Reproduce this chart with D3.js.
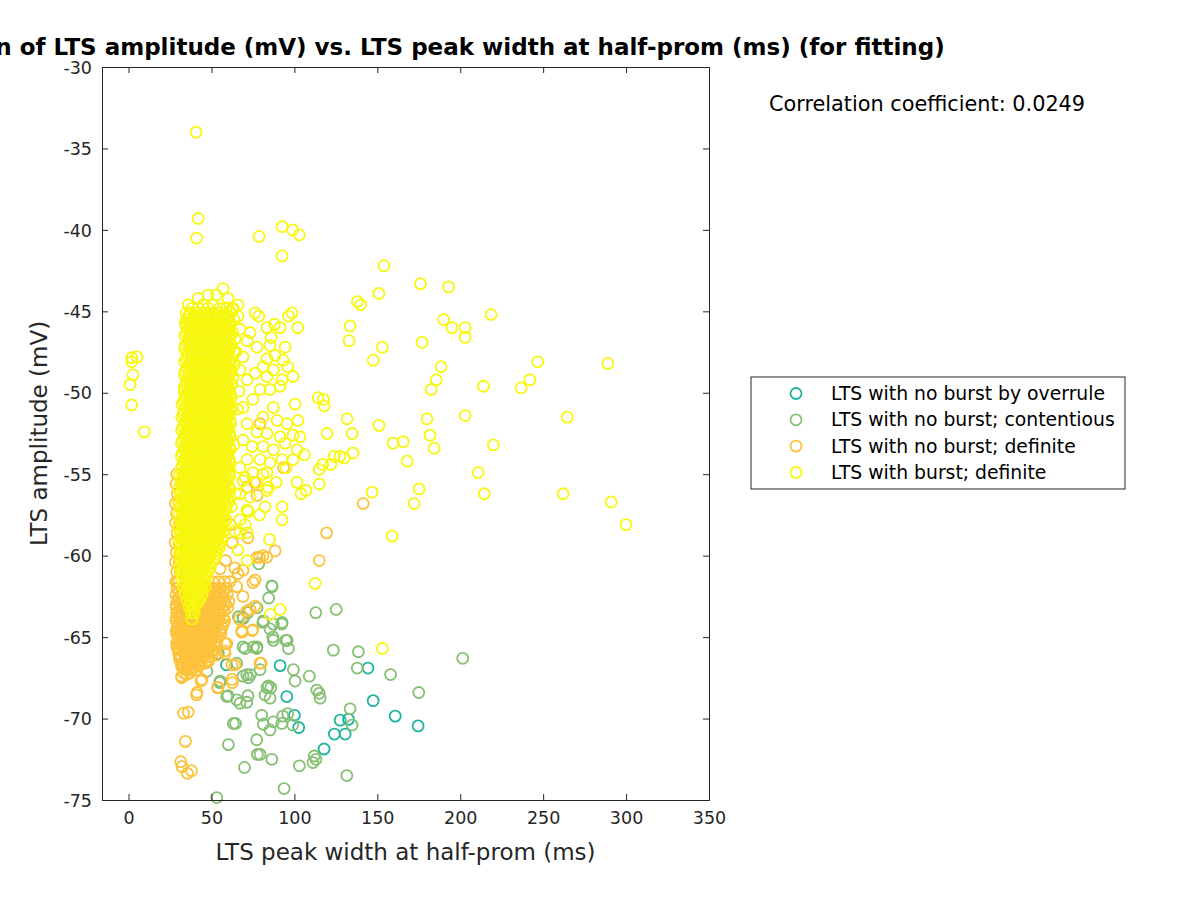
<!DOCTYPE html>
<html>
<head>
<meta charset="utf-8">
<script src="https://cdn.jsdelivr.net/npm/d3@7"></script>
<style>
  body { margin: 0; background: #fff; }
  svg { font-family: "DejaVu Sans", sans-serif; }
</style>
</head>
<body>
<svg id="chart" width="1200" height="900"></svg>
<script>
// ---------------- DATA ----------------
const seriesNames = [
  "LTS with no burst by overrule",
  "LTS with no burst; contentious",
  "LTS with no burst; definite",
  "LTS with burst; definite"
];
const seriesColors = ["#1db5a0", "#86c073", "#fcc23a", "#f7f70f"];
const xTicks = [0, 50, 100, 150, 200, 250, 300, 350];
const yTicks = [-75, -70, -65, -60, -55, -50, -45, -40, -35, -30];
const corrText = "Correlation coefficient: 0.0249";

// [width (ms), amplitude (mV)]
const overrulePts = [
  [91.4,-66.75],[95.4,-68.65],[100,-69.8],[102.6,-70.55],[117.9,-71.87],[124.1,-70.95],
  [127.6,-70.1],[130.6,-70.95],[132.6,-70.05],[144.4,-66.9],[147.5,-68.9],[160.8,-69.85],
  [174.6,-70.45],[59,-66.7],[51.2,-64.15]
];

const contentiousPts = [
  [201.5,-66.3],[175,-68.4],[158,-67.3],[137.9,-66.9],[138.6,-65.9],[123.5,-65.8],[125.2,-63.3],
  [112.9,-63.5],[113.5,-68.25],[115,-68.45],[115.5,-68.75],[109,-67.4],[134.8,-70.4],[133.6,-69.4],
  [131.6,-73.5],[112,-72.3],[113,-72.5],[111.2,-72.7],[103,-72.9],[93.8,-74.3],[53.2,-74.85],
  [69.9,-73.0],[77.7,-72.2],[79.3,-72.2],[86.4,-72.5],[60.2,-71.6],[77.3,-71.3],[63.2,-70.3],
  [80.3,-69.8],[87.3,-70.2],[92.4,-70.3],[93,-69.85],[85.3,-70.7],[81.3,-70.35],[96,-69.7],
  [99,-70.4],[59.2,-68.65],[65.2,-68.85],[67.2,-69.06],[71.3,-69.0],[84.3,-68.0],[85.8,-68.1],
  [82.3,-68.55],[85.3,-68.75],[99.4,-67.0],[100.4,-67.7],[86.4,-61.85],[87.3,-65.2],[96.4,-65.7],
  [94.8,-65.2],[87.3,-64.2],[92.4,-64.2],[85.3,-64.5],[81.3,-64.0],[69.2,-63.85],[66.2,-63.75],
  [70.3,-65.7],[75.3,-65.6],[77.3,-65.7],[71.3,-67.3],[72.3,-67.5],[65.2,-66.6],[47.2,-67.1],
  [55.2,-67.7],[54.2,-66.0],[69,-63.8],[72,-63.5],[77.5,-63.2],[92.6,-64.1],[81,-64.1],
  [87,-65.0],[95.6,-65.2],[69,-65.6],[77.5,-65.6],[53.3,-66.0],[79.3,-67.0],[69,-67.4],
  [55,-67.8],[60,-68.6],[83.5,-68.1],[72,-68.6],[73.5,-67.3],[64.5,-70.3],[86.5,-61.9],
  [78.5,-60.5],[84.5,-62.6]
];

// no-burst definite: dense rows under the burst column [amplitude, [widths...]]
const definiteColumnRows = [
  [-55.0,[29.1]],[-55.6,[28.6]],[-56.2,[29.4]],[-56.8,[28.2,30.5]],[-57.4,[28.9]],[-58.0,[28.4,30.8]],
  [-58.6,[29.2]],[-59.2,[28.1,30.4]],[-59.8,[28.8,31.1]],[-60.4,[28.3,30.6]],[-61.0,[29.0,31.3]],
  [-61.6,[28.5,30.2,50.8,54.3,57.9,61.2]],
  [-62.0,[29.2,32.4,47.9,51.6,55.2,58.7]],
  [-62.2,[30.4,33.9,46.5,50.2,53.7,57.3]],
  [-62.4,[28.6,31.7,35.2,45.3,48.8,52.4,56.1,59.5]],
  [-62.6,[29.9,33.3,36.8,43.0,46.1,49.6,53.2,56.9]],
  [-62.8,[29.5,32.8,36.3,44.1,47.4,50.9,54.5,57.8]],
  [-63.0,[28.7,31.4,34.4,38.0,41.2,44.6,48.1,51.6,55.1,58.6]],
  [-63.2,[28.8,31.9,34.7,42.4,45.9,49.3,52.8,56.2,59.8]],
  [-63.4,[30.3,33.6,37.1,40.5,43.9,47.4,50.9,54.3,57.5]],
  [-63.6,[29.4,32.7,35.9,41.6,44.8,48.2,51.7,55.0]],
  [-63.8,[28.9,31.1,34.2,37.6,40.9,44.2,47.7,51.1,54.6,57.2]],
  [-64.0,[28.5,31.6,34.8,38.0,41.3,44.5,47.9,51.2,54.6,58.0]],
  [-64.2,[30.1,33.3,36.6,40.0,43.5,46.9,50.3,53.8,57.1]],
  [-64.4,[29.6,32.9,36.1,39.4,42.8,46.2,49.6,53.1,56.4]],
  [-64.6,[28.7,31.7,35.0,38.3,41.7,45.1,48.5,52.0,55.2]],
  [-64.8,[28.9,32.2,35.4,38.7,41.9,45.4,48.8,52.2,55.7]],
  [-65.0,[30.4,33.7,37.0,40.4,43.8,47.2,50.7,54.1]],
  [-65.2,[29.8,33.1,36.5,39.8,43.2,46.6,50.1,53.4]],
  [-65.4,[29.0,32.0,35.3,38.7,42.0,45.4,48.9,52.2]],
  [-65.6,[29.1,32.4,35.7,39.1,42.4,45.8,49.2,52.6]],
  [-65.8,[30.7,34.0,37.4,40.8,44.1,47.5,51.0]],
  [-66.0,[30.2,33.5,36.8,40.3,43.6,47.0,50.5]],
  [-66.2,[31.6,34.9,38.3,41.7,45.1,48.6]],
  [-66.4,[30.8,34.2,37.6,41.0,44.4,48.0]],
  [-66.6,[32.5,36.0,39.4,43.0,46.3]],
  [-66.8,[32.0,35.5,39.1,42.2]],
  [-67.0,[34.6,38.2,41.1]],
  [-67.2,[33.4,37.0]],[-67.5,[32.1]]
];

const definiteScatterPts = [
  [41,-68.55],[53.6,-68.1],[43.7,-67.7],[62.6,-67.8],[64.2,-66.7],[79.9,-66.6],[57.8,-65.85],
  [74.9,-64.56],[68.3,-64.6],[71.3,-63.4],[76.3,-63.1],[75,-61.65],[69,-60.9],[65.2,-61.9],
  [59.2,-65.4],[53.2,-66.1],[48.1,-66.5],[43.1,-66.7],[40.1,-66.4],[35.1,-67.3],[32,-67.4],
  [30,-65.6],[31,-66.2],[33,-66.8],[29,-63.5],[29,-61.6],[30,-64.6],
  [33.2,-69.67],[36,-69.6],[34.3,-71.4],[31.5,-72.65],[32.2,-72.95],[35.5,-73.36],[38,-73.2],
  [141.5,-56.8],[119.4,-58.6],[115,-60.3],[88.4,-59.7],[81,-60.0],[77.5,-60.1],[83.3,-60.1],
  [71.5,-55.8],[76,-55.5],[77.5,-56.3],[72,-58.9],[79,-60.1],[76.3,-61.5],[66,-61.1],[69,-62.5],
  [64,-60.75],[73.3,-63.3],[68.4,-64.7],[74.5,-64.6],[79.3,-66.6],[58.2,-65.4],[58.2,-66.0],
  [62.4,-66.7],[62.4,-67.6],[54,-68.1],[41.3,-68.4],[44.3,-67.6],[79.3,-51.9],[93.5,-54.6],
  [62.5,-59.2],[58.5,-60.3],[55.2,-60.8],[61.4,-58.1],[66.8,-63.9],[60.5,-62.8]
];

// main dense column of bursting LTSs: [amplitude, [widths...]]
const burstColumnRows = [
  [-43.6,[57]],[-44.0,[48,53]],[-44.2,[42,60]],[-44.6,[36,45,51,66]],[-44.8,[38.5,42,48,55,59,63]],
  [-45.1,[34.8,37.2,40.9,44.1,47.6,51.3,54.2,58.1,61.4]],
  [-45.3,[36.1,39.8,43.2,46.7,50.1,53.6,57.0,60.4]],
  [-45.5,[35.3,38.7,42.6,45.8,49.2,52.9,56.4,59.7,63.5]],
  [-45.7,[34.2,37.4,40.9,44.3,47.8,51.2,54.7,58.2,61.5]],
  [-45.9,[34.6,36.9,40.2,43.7,47.5,50.6,54.8,57.9,61.2]],
  [-46.1,[35.8,39.1,42.6,46.2,49.5,53.1,56.6,60.1]],
  [-46.3,[34.9,38.4,41.8,45.1,48.9,52.3,55.7,59.4,62.8]],
  [-46.5,[34.0,37.3,40.7,44.2,47.6,51.0,54.5,57.9,61.3]],
  [-46.7,[36.1,39.8,43.4,46.6,50.4,53.6,57.2,60.9,64.2]],
  [-46.9,[35.4,38.8,42.3,45.8,49.3,52.6,56.1,59.6]],
  [-47.1,[34.3,37.6,41.2,44.9,48.1,51.8,55.3,58.6,62.1]],
  [-47.3,[33.9,37.2,40.5,44.0,47.4,50.8,54.3,57.7,61.0]],
  [-47.5,[35.8,39.5,42.8,46.3,49.7,53.4,56.8,60.3,63.7]],
  [-47.7,[35.5,38.6,42.1,45.5,49.0,52.5,55.9,59.4]],
  [-47.9,[34.7,38.1,41.6,45.2,48.6,52.1,55.9,59.1,62.4]],
  [-48.1,[33.8,37.0,40.4,43.9,47.3,50.7,54.1,57.6,60.9]],
  [-48.3,[36.4,39.9,43.3,46.8,50.2,53.8,57.4,60.8,63.6]],
  [-48.5,[35.3,38.5,42.0,45.4,48.8,52.3,55.7,59.2]],
  [-48.7,[34.2,37.8,41.4,44.7,48.3,51.6,55.2,58.8,62.3]],
  [-48.9,[33.7,36.8,40.3,43.7,47.2,50.6,54.0,57.5,60.7]],
  [-49.1,[35.9,39.3,42.9,46.4,49.8,53.3,56.7,60.1,62.9]],
  [-49.3,[35.1,38.4,41.8,45.3,48.7,52.1,55.6,59.0]],
  [-49.5,[34.5,37.9,41.3,44.8,48.4,51.9,55.4,58.9,62.2]],
  [-49.7,[33.5,36.7,40.1,43.6,47.0,50.4,53.9,57.3,60.5]],
  [-49.9,[33.6,36.2,39.6,43.1,46.7,50.1,53.5,57.1,60.6]],
  [-50.1,[34.9,38.2,41.7,45.1,48.6,52.0,55.4,58.8,61.6]],
  [-50.3,[34.1,37.7,41.1,44.6,48.2,51.7,55.1,58.5,62.0]],
  [-50.5,[33.3,36.5,40.0,43.4,46.9,50.3,53.7,57.2,60.4]],
  [-50.7,[32.2,35.7,39.2,42.7,46.2,49.6,53.2,56.6,60.2]],
  [-50.9,[34.6,38.0,41.4,44.9,48.4,51.8,55.3,58.6,61.4]],
  [-51.1,[33.4,37.5,41.5,44.3,48.0,51.4,55.0,58.4,61.7]],
  [-51.3,[33.1,36.3,39.8,43.2,46.7,50.1,53.6,57.0,60.3]],
  [-51.5,[32.1,35.6,39.1,42.5,46.1,49.5,53.0,56.5,59.9]],
  [-51.7,[34.4,37.8,41.2,44.7,48.2,51.6,55.1,58.5,61.2]],
  [-51.9,[33.9,37.4,40.9,44.4,47.9,51.2,54.7,58.3,61.6]],
  [-52.1,[32.9,36.1,39.6,43.0,46.5,50.0,53.4,56.8,60.1]],
  [-52.3,[32.0,35.4,38.9,42.4,45.9,49.4,52.8,56.3,59.8]],
  [-52.5,[34.2,37.6,41.0,44.5,48.0,51.4,54.9,58.3,61.0]],
  [-52.7,[33.7,37.3,40.8,44.2,47.7,51.1,54.6,58.0,61.5]],
  [-52.9,[32.7,35.9,39.4,42.8,46.3,49.8,53.3,56.7,59.9]],
  [-53.1,[31.9,35.3,38.8,42.3,45.7,49.2,52.7,56.2,59.6]],
  [-53.3,[34.0,37.4,40.9,44.3,47.8,51.3,54.7,58.1,60.9]],
  [-53.5,[33.6,37.1,40.6,44.0,47.6,51.0,54.4,57.9,61.3]],
  [-53.7,[32.5,35.7,39.2,42.6,46.1,49.6,53.1,56.5,59.8]],
  [-53.9,[31.8,35.2,38.6,42.1,45.6,49.1,52.5,56.0,59.5]],
  [-54.1,[33.8,37.2,40.7,44.1,47.6,51.1,54.5,57.9,60.7]],
  [-54.3,[33.5,37.0,40.5,43.9,47.4,50.9,54.3,57.8,61.2]],
  [-54.5,[32.3,35.5,39.0,42.4,45.9,49.4,52.9,56.3,59.6]],
  [-54.7,[31.7,35.1,38.5,42.0,45.5,48.9,52.4,55.8,59.3]],
  [-54.9,[33.6,37.0,40.5,43.9,47.4,50.9,54.3,57.7,60.5]],
  [-55.1,[30.6,33.4,36.9,40.4,43.8,47.3,50.7,54.2,57.6,61.0]],
  [-55.3,[32.1,35.3,38.8,42.2,45.7,49.2,52.7,56.1,59.4]],
  [-55.5,[31.6,35.0,38.4,41.9,45.3,48.8,52.2,55.7,59.1]],
  [-55.7,[33.4,36.8,40.3,43.7,47.2,50.7,54.1,57.5,60.3]],
  [-55.9,[30.1,33.3,36.8,40.2,43.7,47.1,50.6,54.0,57.5,60.8]],
  [-56.1,[31.9,35.1,38.6,42.0,45.5,49.0,52.5,55.9,59.2]],
  [-56.3,[31.5,34.9,38.3,41.7,45.2,48.7,52.1,55.5,58.9]],
  [-56.5,[33.2,36.6,40.1,43.5,47.0,50.5,53.9,57.3,59.9]],
  [-56.7,[30.2,33.2,36.6,40.1,43.5,47.0,50.4,53.9,57.3,60.6]],
  [-56.9,[31.8,34.9,38.4,41.8,45.3,48.8,52.3,55.7,58.9]],
  [-57.1,[31.4,34.8,38.2,41.6,45.0,48.5,51.9,55.4,58.7]],
  [-57.3,[32.9,36.4,39.8,43.3,46.8,50.2,53.7,57.0]],
  [-57.5,[30.3,33.1,36.5,39.9,43.4,46.8,50.3,53.7,57.1]],
  [-57.7,[31.7,34.7,38.2,41.7,45.1,48.6,52.0,55.5,58.4]],
  [-57.9,[31.3,34.7,38.0,41.5,44.9,48.4,51.8,55.2,58.5]],
  [-58.1,[32.7,36.2,39.6,43.1,46.5,50.0,53.4,56.7]],
  [-58.3,[30.4,33.0,36.4,39.8,43.2,46.7,50.1,53.6,56.9]],
  [-58.5,[31.6,34.6,38.0,41.5,44.9,48.4,51.8,55.2,57.6]],
  [-58.7,[31.2,34.6,37.9,41.3,44.8,48.2,51.6,55.0]],
  [-58.9,[32.5,36.0,39.4,42.9,46.3,49.8,53.1,56.0]],
  [-59.1,[30.6,33.2,36.3,39.7,43.1,46.5,50.0,53.4,56.6]],
  [-59.3,[31.8,34.4,37.9,41.3,44.7,48.2,51.6,54.9]],
  [-59.5,[31.3,34.5,37.8,41.2,44.6,48.1,51.5,54.8]],
  [-59.7,[32.6,35.8,39.3,42.7,46.1,49.5,52.6]],
  [-59.9,[30.8,33.4,36.2,39.6,43.0,46.4,49.8,53.2]],
  [-60.1,[31.9,35.1,38.5,42.0,45.3,48.7,52.2]],
  [-60.3,[31.5,34.4,37.7,41.1,44.5,47.9,51.3]],
  [-60.5,[32.8,35.6,39.0,42.4,45.8,48.9]],
  [-60.7,[31.0,33.6,36.1,39.5,42.9,46.3,49.4]],
  [-60.9,[32.4,35.0,38.3,41.6,45.0,47.6]],
  [-61.1,[31.8,34.3,37.6,41.0,44.3,47.8]],
  [-61.3,[33.5,36.8,40.2,43.7,46.9]],
  [-61.5,[32.2,35.9,39.4,42.8,46.2]],
  [-61.7,[34.6,38.0,41.6,44.9]],
  [-61.9,[33.0,36.3,39.8,43.4,46.1]],
  [-62.1,[35.8,39.3,42.9]],
  [-62.3,[34.1,37.4,41.2,44.6]],
  [-62.5,[36.6,40.4,43.8]],
  [-62.7,[35.2,38.9,42.7]],
  [-62.9,[37.3,41.5]],
  [-63.1,[36.4,40.1]],
  [-63.3,[38.9]],
  [-63.5,[37.8,39.6]],
  [-63.9,[38.2]]
];

const burstScatterPts = [
  [40.7,-34.0],[42,-39.3],[41,-40.5],[78.7,-40.4],[92.6,-39.8],[99,-40.0],[103,-40.3],[92.6,-41.6],
  [154,-42.2],[176,-43.3],[193,-43.5],[138,-44.4],[140,-44.6],[151,-43.9],[98.6,-45.1],[96.5,-45.3],
  [218.6,-45.2],[190,-45.5],[195,-46.0],[203,-46.0],[203,-46.6],[133.6,-45.9],[133,-46.8],[102,-46.0],
  [177,-46.9],[153,-47.2],[147.5,-48.0],[188.5,-48.4],[246.7,-48.1],[289,-48.2],[242,-49.2],
  [236.7,-49.7],[185.5,-49.2],[182.5,-49.8],[214,-49.6],[114.3,-50.3],[117.5,-50.4],[118,-50.8],
  [131.8,-51.6],[180,-51.6],[264.5,-51.5],[203,-51.4],[181.8,-52.6],[151,-52.0],[119.7,-52.5],
  [134.8,-52.5],[165.6,-53.0],[159.5,-53.1],[184.3,-53.4],[220,-53.2],[135.4,-53.7],[124,-53.9],
  [127.5,-53.9],[130,-54.0],[115,-54.7],[117,-54.4],[122,-54.4],[168,-54.2],[210.8,-54.9],
  [115,-55.6],[175.2,-55.9],[146.8,-56.1],[214.5,-56.2],[262,-56.2],[291,-56.7],[172.2,-56.8],
  [300,-58.1],[159,-58.8],[112.5,-61.7],[153,-65.7],[85.5,-63.6],[91.4,-63.3],
  [1.9,-47.85],[5.1,-47.8],[1.9,-48.1],[2.7,-48.9],[0.9,-49.5],[1.9,-50.75],[9.5,-52.4],
  [76.3,-45.1],[83.5,-46.0],[91.4,-46.0],[85.3,-47.1],[94.4,-47.2],[88.4,-47.7],[93.2,-48.0],
  [83.5,-47.9],[81.1,-48.4],[87.3,-48.6],[92.6,-49.2],[99.2,-49.0],[83.5,-49.0],[76.3,-48.8],
  [71.5,-49.2],[67.2,-48.6],[69,-47.8],[71.5,-46.8],[67.2,-46.1],[66,-45.3],[73.3,-46.3],
  [77.5,-47.2],[79.3,-49.8],[85.3,-49.8],[91.4,-49.6],[87.3,-50.9],[75,-50.4],[69,-50.9],
  [81.1,-51.5],[89.6,-51.7],[95.6,-51.9],[100.4,-50.7],[102.2,-51.7],[71.5,-51.9],[77.5,-52.4],
  [83.5,-52.5],[91.4,-52.7],[99.2,-52.6],[69,-52.9],[74.5,-53.3],[81.1,-53.3],[87.3,-53.5],
  [94.4,-53.1],[101.6,-53.5],[71.5,-54.1],[79.3,-54.1],[85.3,-54.3],[92.6,-54.1],[99.2,-54.1],
  [103.4,-52.7],[106,-53.8],[67.2,-54.6],[75,-54.9],[83.5,-54.9],[69,-55.4],[77.5,-55.5],
  [84.3,-55.8],[82.3,-57.0],[92.6,-57.0],[92.6,-57.8],[71.5,-57.2],[67.2,-56.2],[73.3,-56.4],
  [67.2,-57.8],[71.5,-58.6],[70.3,-55.2],[81,-55.0],[83.5,-56.0],[101.6,-55.5],[104,-56.2],
  [107,-56.0],[71.5,-60.3],[66,-59.65],[64.2,-58.5],[72.1,-57.3],[70.3,-58.1],[67.2,-58.6],
  [78.5,-45.3],[63,-44.9],[86,-46.6],[88,-45.8],[96,-48.4],[62,-57.0],[64.5,-56.2],[63.6,-53.2],
  [65.8,-51.0],[66.5,-49.9],[64.8,-47.5],[79,-57.5],[85,-59.0],[89,-55.5],[95,-54.6]
];

// ---------------- CHART ----------------
const svg = d3.select("#chart");
const axisColor = "#262626";
const x = d3.scaleLinear().domain([-16, 350]).range([102, 709]);
const y = d3.scaleLinear().domain([-75, -30]).range([800, 67]);

function flattenRows(rows) {
  const out = [];
  rows.forEach(([amp, widths]) => widths.forEach(w => out.push([w, amp])));
  return out;
}
const definitePts = flattenRows(definiteColumnRows).concat(definiteScatterPts);
const burstPts = flattenRows(burstColumnRows).concat(burstScatterPts);
const allSeries = [overrulePts, contentiousPts, definitePts, burstPts];

svg.append("rect").attr("x", 0).attr("y", 0).attr("width", 1200).attr("height", 900).attr("fill", "#fff");

const plot = svg.append("g");
allSeries.forEach((pts, i) => {
  plot.append("g")
    .selectAll("circle")
    .data(pts)
    .join("circle")
    .attr("cx", d => x(d[0]))
    .attr("cy", d => y(d[1]))
    .attr("r", 5.5)
    .attr("fill", "none")
    .attr("stroke", seriesColors[i])
    .attr("stroke-width", 1.8);
});

// axes
const tickLen = 6;
const axB = svg.append("g").attr("transform", `translate(0,${y(-75)})`)
  .call(d3.axisBottom(x).tickValues(xTicks).tickSize(-tickLen).tickPadding(12).tickFormat(d3.format("d")));
const axT = svg.append("g").attr("transform", `translate(0,${y(-30)})`)
  .call(d3.axisTop(x).tickValues(xTicks).tickSize(-tickLen).tickFormat(""));
const axL = svg.append("g").attr("transform", `translate(${x(-16)},0)`)
  .call(d3.axisLeft(y).tickValues(yTicks).tickSize(-tickLen).tickPadding(10).tickFormat(d => String(d)));
const axR = svg.append("g").attr("transform", `translate(${x(350)},0)`)
  .call(d3.axisRight(y).tickValues(yTicks).tickSize(-tickLen).tickFormat(""));

[axB, axT, axL, axR].forEach(a => {
  a.select(".domain").attr("stroke", axisColor).attr("stroke-width", 1);
  a.selectAll(".tick line").attr("stroke", axisColor).attr("stroke-width", 1);
  a.selectAll(".tick text").attr("fill", axisColor)
    .style("font-family", "DejaVu Sans, sans-serif").style("font-size", "17.5px");
});
axL.selectAll(".tick text").attr("dy", "0.35em");

// axis labels
svg.append("text").attr("x", 405.5).attr("y", 860).attr("text-anchor", "middle")
  .attr("fill", axisColor).style("font-size", "23px").text("LTS peak width at half-prom (ms)");
svg.append("text").attr("transform", `translate(47,${(67 + 800) / 2}) rotate(-90)`)
  .attr("text-anchor", "middle").attr("fill", axisColor).style("font-size", "23px")
  .text("LTS amplitude (mV)");

// title (wider than the figure, clipped at the left edge as in the original)
svg.append("text").attr("x", 405.5).attr("y", 55).attr("text-anchor", "middle")
  .attr("fill", "#000").style("font-size", "23px").style("font-weight", "bold")
  .text("Correlation of LTS amplitude (mV) vs. LTS peak width at half-prom (ms) (for fitting)");

// correlation annotation
svg.append("text").attr("x", 769).attr("y", 111).attr("fill", "#000")
  .style("font-size", "20.8px").text(corrText);

// legend
const lg = svg.append("g");
lg.append("rect").attr("x", 751).attr("y", 377).attr("width", 374).attr("height", 112)
  .attr("fill", "#fff").attr("stroke", axisColor).attr("stroke-width", 1);
seriesNames.forEach((name, i) => {
  const cy = 393.5 + i * 26.3;
  lg.append("circle").attr("cx", 796).attr("cy", cy).attr("r", 5.5)
    .attr("fill", "none").attr("stroke", seriesColors[i]).attr("stroke-width", 1.8);
  lg.append("text").attr("x", 831).attr("y", cy).attr("dy", "0.35em")
    .attr("fill", "#000").style("font-size", "18.8px").text(name);
});
</script>
</body>
</html>
